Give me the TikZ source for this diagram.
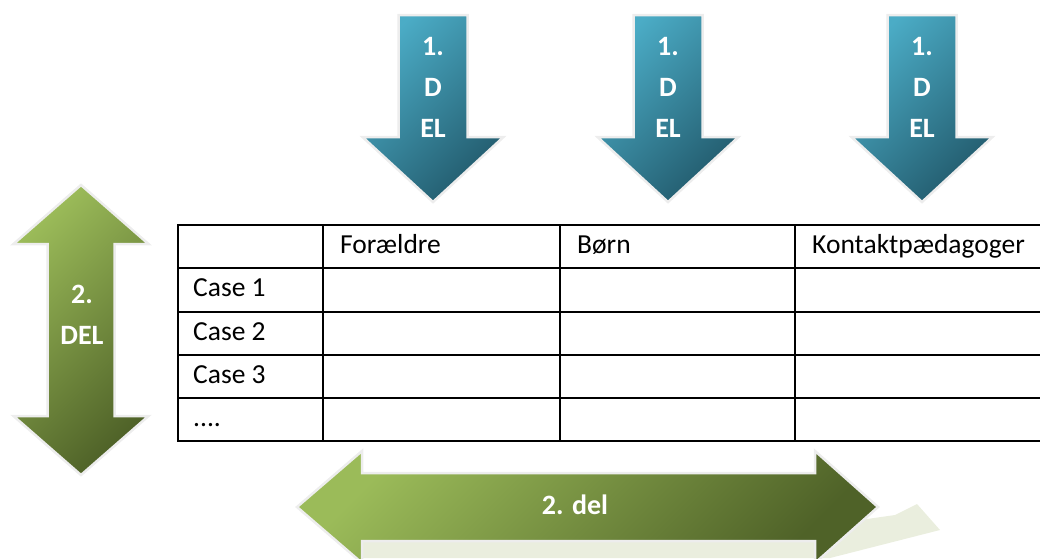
\documentclass[tikz,border=0pt]{standalone}
\usepackage{fontspec}
\setmainfont{Carlito}
\usepackage{tikz}
\usepackage{xcolor}

\definecolor{aqualight}{RGB}{75,172,198}
\definecolor{aquadark}{RGB}{34,90,108}
\definecolor{olivelight}{RGB}{155,187,89}
\definecolor{olivedark}{RGB}{79,98,40}
\definecolor{shadowgreen}{RGB}{234,238,222}

\tikzset{
    glow/.style={draw=black!7, line width=2.5pt, line join=miter},
    aquaarrow/.style={glow, top color=aqualight, bottom color=aquadark, shading angle=45},
    olivearrow/.style={glow, top color=olivelight, bottom color=olivedark, shading angle=45},
    arrowtext/.style={text=white, font=\bfseries\fontsize{28}{41}\selectfont, align=center},
    celltext/.style={anchor=base west, inner sep=0pt, font=\fontsize{27.5}{33}\selectfont},
    tableline/.style={line width=1.6pt}
}

\begin{document}
\begin{tikzpicture}[x=1pt, y=-1pt]
    \useasboundingbox (0,0) rectangle (1040,558);
    \clip (0,0) rectangle (1040,558);

    % 1. del, three arrows down
    \foreach \c/\n in {433/a, 668/b, 922/c} {
        \shadedraw[aquaarrow] (\c-34.5,15) -- (\c+34.5,15) -- (\c+34.5,137) -- (\c+70.5,137)
            -- (\c,202) -- (\c-70.5,137) -- (\c-34.5,137) -- cycle;
        \node[arrowtext] (del1\n) at (\c,87) {1.\\D\\EL};
    }

    % 2. del, up and down
    \shadedraw[olivearrow] (81,185) -- (148.5,244) -- (114.5,244) -- (114.5,416) -- (148.5,416)
        -- (81,475) -- (13.5,416) -- (47.5,416) -- (47.5,244) -- (13.5,244) -- cycle;
    \node[arrowtext] (del2v) at (82,315) {2.\\DEL};

    % 2. del, left and right, with its shadow
    \fill[shadowgreen] (362,541) -- (860,520) -- (895,515) -- (917,504) -- (940,530)
        -- (830,558) -- (362,558) -- cycle;
    \shadedraw[olivearrow] (297,507) -- (362,451) -- (362,473) -- (815,473) -- (815,451)
        -- (878,507) -- (815,563) -- (815,541) -- (362,541) -- (362,563) -- cycle;
    \node[arrowtext] (del2h) at (575,505) {2. del};

    % table
    \draw[tableline] (178,225) rectangle (1046,441);
    \foreach \y in {268,312,355,398}
        \draw[tableline] (178,\y) -- (1046,\y);
    \foreach \x in {323,560,795}
        \draw[tableline] (\x,225) -- (\x,441);

    \node[celltext] (foraeldre) at (340,253) {Forældre};
    \node[celltext] (boern) at (577,253) {Børn};
    \node[celltext] (kontakt) at (812,253) {Kontaktpædagoger};
    \node[celltext] (case1) at (193,296) {Case 1};
    \node[celltext] (case2) at (193,340) {Case 2};
    \node[celltext] (case3) at (193,383) {Case 3};
    \node[celltext] (dots) at (193,426) {....};
\end{tikzpicture}
\end{document}
